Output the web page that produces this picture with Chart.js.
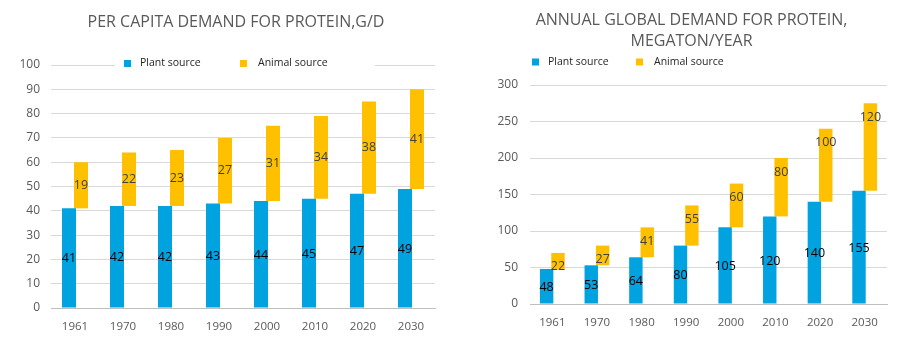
<!DOCTYPE html>
<html><head><meta charset="utf-8">
<script src="https://cdn.jsdelivr.net/npm/chart.js@4/dist/chart.umd.min.js"></script>
<style>
html,body{margin:0;padding:0;background:#fff;overflow:hidden;width:911px;height:363px}
canvas{position:absolute;top:0}
#c1{left:0}
#c2{left:455px}
</style></head><body>
<canvas id="c1" width="455" height="363"></canvas>
<canvas id="c2" width="456" height="363"></canvas>
<script>
// ---- data ----
const years = ['1961','1970','1980','1990','2000','2010','2020','2030'];
const seriesNames = ['Plant source','Animal source'];
const perCapitaPlant = [41,42,42,43,44,45,47,49];
const perCapitaAnimal = [19,22,23,27,31,34,38,41];
const globalPlant = [48,53,64,80,105,120,140,155];
const globalAnimal = [22,27,41,55,60,80,100,120];
const leftTitle = 'PER CAPITA DEMAND FOR PROTEIN,G/D';
const rightTitle = ['ANNUAL GLOBAL DEMAND FOR PROTEIN,','MEGATON/YEAR'];

const BLUE = '#00A3E0', GOLD = '#FFC000';
const FONT = "'Open Sans', sans-serif";
Chart.defaults.font.family = FONT;
Chart.defaults.animation = false;

function floating(base, add){ return base.map((b,i)=>[b, b+add[i]]); }

const labelPlugin = {
  id:'barLabels',
  afterDatasetsDraw(chart){
    const ctx = chart.ctx;
    chart.data.datasets.forEach((ds,i)=>{
      const cfg = ds.valueLabels; if(!cfg) return;
      const meta = chart.getDatasetMeta(i);
      meta.data.forEach((el,j)=>{
        const p = el.getProps(['x','y','base'], true);
        const top = Math.min(p.y,p.base), bot = Math.max(p.y,p.base);
        const ly = cfg.anchor==='end' ? top + cfg.offset : (top+bot)/2 + cfg.offset;
        ctx.save();
        ctx.font = '12.5px ' + FONT;
        ctx.fillStyle = cfg.color;
        ctx.textAlign = 'center';
        ctx.textBaseline = 'middle';
        ctx.fillText(String(cfg.values[j]), p.x, ly);
        ctx.restore();
      });
    });
  }
};

// let y tick labels extend left of the (narrow) axis box without being clipped
const unclipY = {
  id:'unclipY',
  afterLayout(chart){ const s = chart.scales.y; s.width += s.left; s.left = 0; }
};

function makeLegend(cfg){
  return {
    id:'customLegend',
    afterDraw(chart){
      const ctx = chart.ctx;
      ctx.save();
      if(cfg.mask){ ctx.fillStyle='#fff'; ctx.fillRect(cfg.mask[0],cfg.mask[1],cfg.mask[2],cfg.mask[3]); }
      ctx.font = '10.5px ' + FONT;
      ctx.textBaseline = 'middle';
      ctx.textAlign = 'left';
      cfg.items.forEach((it,k)=>{
        ctx.fillStyle = [BLUE,GOLD][k];
        ctx.fillRect(it.sx, cfg.y-3.5, 7, 7);
        ctx.fillStyle = '#262626';
        ctx.fillText(seriesNames[k], it.tx, cfg.y);
      });
      ctx.restore();
    }
  };
}

function makeChart(id, plant, animal, opts){
  return new Chart(document.getElementById(id), {
    type:'bar',
    data:{
      labels: years,
      datasets:[
        {label:seriesNames[0], data: plant, backgroundColor: BLUE,
         categoryPercentage: opts.cat, barPercentage: opts.bar,
         valueLabels:{values: plant, color:'#000', anchor:'center', offset:1}},
        {label:seriesNames[1], data: floating(plant, animal), backgroundColor: GOLD,
         categoryPercentage: opts.cat, barPercentage: opts.bar,
         valueLabels:{values: animal, color:'#404040', anchor: opts.animalAnchor, offset: opts.animalOffset}}
      ]
    },
    options:{
      responsive:false,
      animation:false,
      layout:{padding:{left:opts.padL, right:opts.padR, top:0, bottom:0}},
      plugins:{
        legend:{display:false},
        tooltip:{enabled:false},
        title:{display:true, text: opts.title, color:'#595959',
          font:{size:16, family:FONT, weight:'normal', lineHeight: opts.titleLH},
          padding:{top:opts.titleTop, bottom:opts.titleBottom}}
      },
      scales:{
        x:{
          grid:{display:false, drawTicks:false},
          border:{display:true, color:'#BFBFBF', width:1},
          ticks:{color:'#595959', font:{size:11.5}, padding:12, maxRotation:0},
          afterFit(s){ s.height = opts.xH; }
        },
        y:{
          min:0, max:opts.max,
          grid:{color:'#D9D9D9', lineWidth:1, drawTicks:false},
          border:{display:false},
          ticks:{stepSize:opts.step, color:'#595959', font:{size:12}, padding:opts.yPad},
          afterFit(s){ s.width = opts.yW; }
        }
      }
    },
    plugins:[labelPlugin, unclipY, makeLegend(opts.legend)]
  });
}

makeChart('c1', perCapitaPlant, perCapitaAnimal, {
  title: leftTitle, titleLH:1.25, titleTop:12, titleBottom:33,
  padL:37, padR:20, yW:14, xH:55, yPad:11, max:100, step:10,
  cat:0.5, bar:1.167, animalAnchor:'center', animalOffset:0,
  legend:{y:63.5, mask:[115,56,260,15], items:[{sx:124,tx:140},{sx:240,tx:258}]}
});

makeChart('c2', globalPlant, globalAnimal, {
  title: rightTitle, titleLH:1.3125, titleTop:9.5, titleBottom:33.5,
  padL:41, padR:24, yW:34, xH:59, yPad:12, max:300, step:50,
  cat:0.51, bar:1.18, animalAnchor:'end', animalOffset:14,
  legend:{y:62, items:[{sx:77,tx:93},{sx:181,tx:199}]}
});
</script>
</body></html>
